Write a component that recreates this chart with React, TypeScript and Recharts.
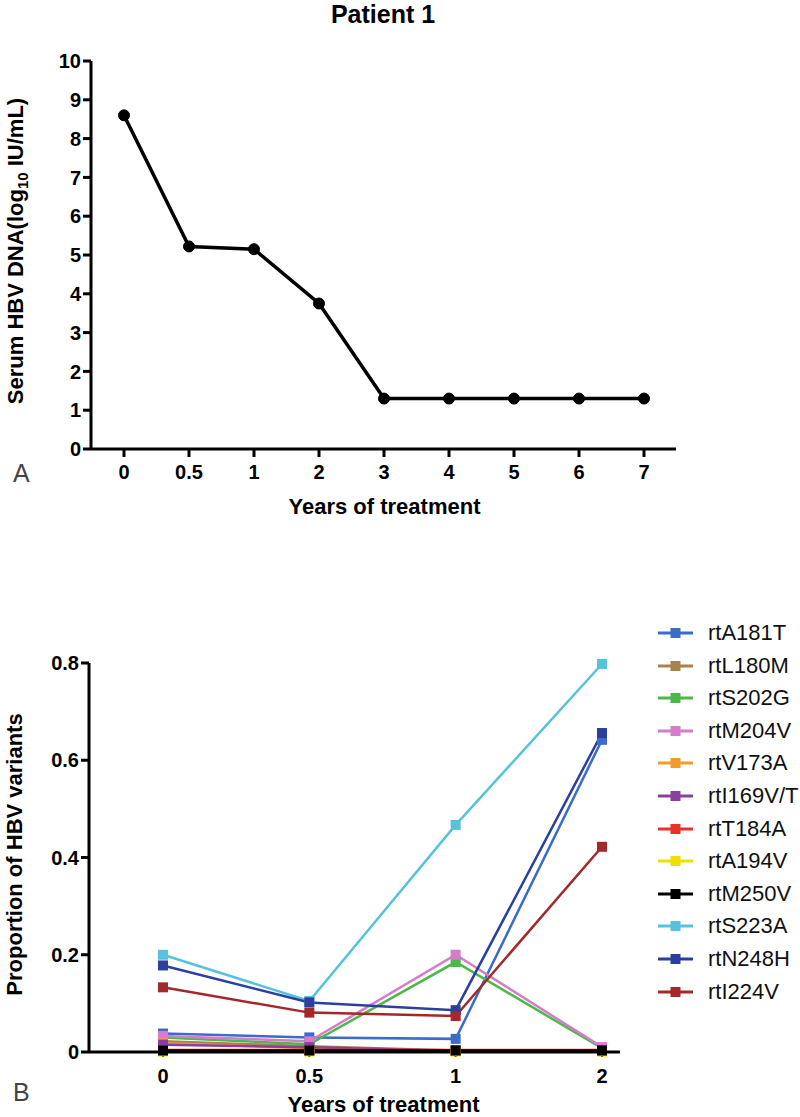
import React from 'react';
import { LineChart, Line, XAxis, YAxis, Label, Legend } from 'recharts';

// ---------- Panel A data ----------
const yearsA = ['0', '0.5', '1', '2', '3', '4', '5', '6', '7'];
const hbvDna = [8.6, 5.22, 5.15, 3.75, 1.3, 1.3, 1.3, 1.3, 1.3];
const ticksA = [0, 1, 2, 3, 4, 5, 6, 7, 8, 9, 10];

// ---------- Panel B data ----------
const yearsB = ['0', '0.5', '1', '2'];
const variantNames = [
  'rtA181T', 'rtL180M', 'rtS202G', 'rtM204V', 'rtV173A', 'rtI169V/T',
  'rtT184A', 'rtA194V', 'rtM250V', 'rtS223A', 'rtN248H', 'rtI224V',
];
const variantColors = [
  '#3a6cc8', '#a8824c', '#4cb848', '#d67cc8', '#f39a2c', '#8a3ea0',
  '#e8322a', '#efe000', '#000000', '#56c2dc', '#2b3f9e', '#a3282a',
];
const rtA181T = [0.038, 0.03, 0.027, 0.642];
const rtL180M = [0.022, 0.012, 0.003, 0.003];
const rtS202G = [0.03, 0.016, 0.185, 0.008];
const rtM204V = [0.033, 0.022, 0.2, 0.01];
const rtV173A = [0.018, 0.008, 0.002, 0.002];
const rtI169VT = [0.015, 0.01, 0.002, 0.002];
const rtT184A = [0.004, 0.004, 0.004, 0.004];
const rtA194V = [0.001, 0.001, 0.001, 0.001];
const rtM250V = [0.003, 0.003, 0.003, 0.003];
const rtS223A = [0.2, 0.105, 0.467, 0.798];
const rtN248H = [0.178, 0.102, 0.086, 0.656];
const rtI224V = [0.133, 0.081, 0.074, 0.422];
const variantValues = [
  rtA181T, rtL180M, rtS202G, rtM204V, rtV173A, rtI169VT,
  rtT184A, rtA194V, rtM250V, rtS223A, rtN248H, rtI224V,
];
const ticksB = [0, 0.2, 0.4, 0.6, 0.8];

const dataA = yearsA.map((y, i) => ({ year: y, dna: hbvDna[i] }));
const dataB = yearsB.map((y, i) => {
  const row: Record<string, any> = { year: y };
  variantValues.forEach((vals, k) => {
    row['v' + k] = vals[i];
  });
  return row;
});

const FONT = '"Liberation Sans", Arial, Helvetica, sans-serif';
const tickStyle = { fill: '#000', fontSize: 20, fontWeight: 700, fontFamily: FONT };

const SquareDot = (color: string) => (props: any) => {
  const { cx, cy, index } = props;
  if (cx == null || cy == null) return <g key={index} />;
  return <rect key={index} x={cx - 5} y={cy - 5} width={10} height={10} fill={color} />;
};

const LegendContent = (props: any) => {
  const payload = [...(props.payload || [])].sort(
    (a: any, b: any) => variantNames.indexOf(a.value) - variantNames.indexOf(b.value)
  );
  return (
    <div style={{ fontFamily: FONT }}>
      {payload.map((p: any, i: number) => (
        <div key={i} style={{ display: 'flex', alignItems: 'center', height: 32.6 }}>
          <svg width={50} height={20} style={{ display: 'block', flex: 'none' }}>
            <line x1={3} y1={10} x2={38} y2={10} stroke={p.color} strokeWidth={3} />
            <rect x={15.5} y={5} width={10} height={10} fill={p.color} />
          </svg>
          <span style={{ fontSize: 22, color: '#111', marginLeft: 3, whiteSpace: 'nowrap', lineHeight: '22px' }}>
            {p.value}
          </span>
        </div>
      ))}
    </div>
  );
};

export default function App() {
  return (
    <div style={{ position: 'absolute', left: 0, top: 0, width: 800, height: 1117, background: '#fff', overflow: 'hidden' }}>
      <div style={{ position: 'absolute', left: 0, top: 2, width: 766, textAlign: 'center', fontFamily: FONT, fontWeight: 700, fontSize: 25, lineHeight: '25px', color: '#000' }}>
        Patient 1
      </div>
      <div style={{ position: 'absolute', left: 13, top: 461, fontFamily: '"Liberation Sans", sans-serif', fontWeight: 400, fontSize: 25, lineHeight: '25px', color: '#444' }}>
        A
      </div>
      <div style={{ position: 'absolute', left: 13, top: 1080, fontFamily: '"Liberation Sans", sans-serif', fontWeight: 400, fontSize: 25, lineHeight: '25px', color: '#444' }}>
        B
      </div>

      {/* Panel A */}
      <div style={{ position: 'absolute', left: 0, top: 0 }}>
        <LineChart width={800} height={540} data={dataA} margin={{ top: 61, right: 124, left: 0, bottom: 31 }}>
          <XAxis
            dataKey="year"
            type="category"
            interval={0}
            padding={{ left: 33, right: 32 }}
            height={60}
            axisLine={{ stroke: '#000', strokeWidth: 3 }}
            tickLine={{ stroke: '#000', strokeWidth: 3 }}
            tickSize={8}
            tickMargin={8}
            tick={tickStyle}
          >
            <Label
              content={(p: any) => {
                const vb = p.viewBox || { x: 91, y: 449, width: 585 };
                return (
                  <text x={vb.x + vb.width / 2 + 1} y={vb.y + 65} textAnchor="middle" fontFamily={FONT} fontWeight={700} fontSize={22} fill="#000">
                    Years of treatment
                  </text>
                );
              }}
            />
          </XAxis>
          <YAxis
            type="number"
            domain={[0, 10]}
            ticks={ticksA}
            interval={0}
            width={91}
            axisLine={{ stroke: '#000', strokeWidth: 3 }}
            tickLine={{ stroke: '#000', strokeWidth: 3 }}
            tickSize={8}
            tickMargin={2}
            tick={tickStyle}
          >
            <Label
              content={(p: any) => {
                const vb = p.viewBox || { y: 61, height: 388 };
                const cy = vb.y + vb.height / 2 - 4;
                return (
                  <text x={23} y={cy} transform={`rotate(-90, 23, ${cy})`} textAnchor="middle" fontFamily={FONT} fontWeight={700} fontSize={22} fill="#000">
                    Serum HBV DNA(log
                    <tspan fontSize={15} dy={5}>10</tspan>
                    <tspan dy={-5}> IU/mL)</tspan>
                  </text>
                );
              }}
            />
          </YAxis>
          <Line
            type="linear"
            dataKey="dna"
            stroke="#000"
            strokeWidth={3.5}
            dot={{ r: 5.5, fill: '#000', stroke: '#000', strokeWidth: 1 }}
            activeDot={false}
            isAnimationActive={false}
          />
        </LineChart>
      </div>

      {/* Panel B */}
      <div style={{ position: 'absolute', left: 0, top: 560 }}>
        <LineChart width={800} height={557} data={dataB} margin={{ top: 103, right: 180, left: 0, bottom: 15 }}>
          <XAxis
            dataKey="year"
            type="category"
            interval={0}
            padding={{ left: 74, right: 18 }}
            height={50}
            axisLine={{ stroke: '#000', strokeWidth: 3 }}
            tickLine={{ stroke: '#000', strokeWidth: 2 }}
            tickSize={5}
            tickMargin={12}
            tick={tickStyle}
          >
            <Label
              content={(p: any) => {
                const vb = p.viewBox || { x: 89, y: 492, width: 531 };
                return (
                  <text x={vb.x + vb.width / 2 + 29} y={vb.y + 60} textAnchor="middle" fontFamily={FONT} fontWeight={700} fontSize={22} fill="#000">
                    Years of treatment
                  </text>
                );
              }}
            />
          </XAxis>
          <YAxis
            type="number"
            domain={[0, 0.8]}
            ticks={ticksB}
            interval={0}
            width={89}
            axisLine={{ stroke: '#000', strokeWidth: 3 }}
            tickLine={{ stroke: '#000', strokeWidth: 3 }}
            tickSize={8}
            tickMargin={2}
            tick={tickStyle}
          >
            <Label
              content={(p: any) => {
                const vb = p.viewBox || { y: 103, height: 389 };
                const cy = vb.y + vb.height / 2 - 3;
                return (
                  <text x={22} y={cy} transform={`rotate(-90, 22, ${cy})`} textAnchor="middle" fontFamily={FONT} fontWeight={700} fontSize={22} fill="#000">
                    Proportion of HBV variants
                  </text>
                );
              }}
            />
          </YAxis>
          <Legend
            layout="vertical"
            align="center"
            verticalAlign="middle"
            width={145}
            itemSorter={null as any}
            wrapperStyle={{ left: 655, top: 56.7, width: 145, right: 'auto', bottom: 'auto' }}
            content={LegendContent}
          />
          {variantNames.map((name, k) => (
            <Line
              key={name}
              type="linear"
              dataKey={'v' + k}
              name={name}
              stroke={variantColors[k]}
              strokeWidth={2.5}
              dot={SquareDot(variantColors[k])}
              activeDot={false}
              isAnimationActive={false}
            />
          ))}
        </LineChart>
      </div>
    </div>
  );
}
